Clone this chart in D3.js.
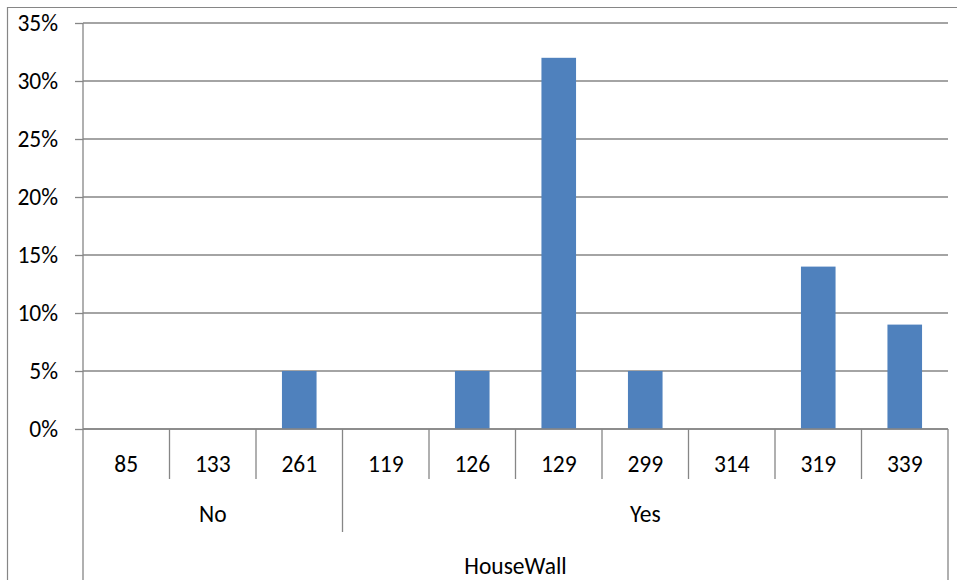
<!DOCTYPE html>
<html>
<head>
<meta charset="utf-8">
<script src="https://cdn.jsdelivr.net/npm/d3@7"></script>
<style>
  html, body { margin: 0; padding: 0; background: #fff; }
  svg { display: block; }
  text { font-family: Calibri, Carlito, Lato, sans-serif; fill: #000; }
</style>
</head>
<body>
<svg id="chart" width="957" height="580"></svg>
<script>
// Share of records per HouseWall group and id
const groups = ["No", "Yes"];
const categories = ["85", "133", "261", "119", "126", "129", "299", "314", "319", "339"];
const categoryGroup = ["No", "No", "No", "Yes", "Yes", "Yes", "Yes", "Yes", "Yes", "Yes"];
const values = [0, 0, 0.05, 0, 0.05, 0.32, 0.05, 0, 0.14, 0.09];
const yTicks = [0, 0.05, 0.10, 0.15, 0.20, 0.25, 0.30, 0.35];
const axisTitle = "HouseWall";

const W = 957, H = 580;
const plotLeft = 83, plotRight = 948, plotTop = 23, plotBottom = 429;
const gridColor = "#868686";
const barColor = "#4F81BD";
const fontSize = 23.5;

const svg = d3.select("#chart");

// Outer frame of the chart area
svg.append("path")
  .attr("d", `M7.5,${H} V7.5 H${W}`)
  .attr("fill", "none")
  .attr("stroke", gridColor)
  .attr("stroke-width", 1.2);

const keys = categories.map((c, i) => i);

const x = d3.scaleBand()
  .domain(keys)
  .range([plotLeft, plotRight])
  .paddingInner(0.6)
  .paddingOuter(0.3);

const y = d3.scaleLinear()
  .domain([0, 0.35])
  .range([plotBottom, plotTop]);

// Horizontal gridlines
svg.append("g")
  .selectAll("line")
  .data(yTicks)
  .join("line")
  .attr("x1", plotLeft)
  .attr("x2", plotRight)
  .attr("y1", d => y(d))
  .attr("y2", d => y(d))
  .attr("stroke", gridColor)
  .attr("stroke-width", 1.3);

// Y axis with percent labels
const yAxis = svg.append("g")
  .attr("transform", `translate(${plotLeft},0)`)
  .call(d3.axisLeft(y).tickValues(yTicks).tickFormat(d3.format(".0%")).tickSize(8).tickPadding(17));
yAxis.select(".domain").remove();
yAxis.selectAll(".tick line").attr("stroke", gridColor).attr("stroke-width", 1.3);
yAxis.selectAll(".tick text")
  .style("font-family", "Calibri, Carlito, Lato, sans-serif")
  .style("font-size", fontSize + "px")
  .attr("fill", "#000");

// Bars
svg.append("g")
  .selectAll("rect")
  .data(keys.filter(i => values[i] > 0))
  .join("rect")
  .attr("x", i => x(i))
  .attr("y", i => y(values[i]))
  .attr("width", x.bandwidth())
  .attr("height", i => y(0) - y(values[i]))
  .attr("fill", barColor);

// Category axis: baseline, dividers and labels
const step = x.step();
const edge = i => plotLeft + i * step;
const axisG = svg.append("g").attr("stroke", gridColor).attr("stroke-width", 1.3);

axisG.append("line")
  .attr("x1", plotLeft).attr("x2", plotRight)
  .attr("y1", plotBottom).attr("y2", plotBottom);

// left and right frame lines running to the bottom
axisG.append("line").attr("x1", plotLeft).attr("x2", plotLeft).attr("y1", plotTop).attr("y2", H);
axisG.append("line").attr("x1", plotRight).attr("x2", plotRight).attr("y1", plotBottom).attr("y2", H);

for (let i = 1; i < categories.length; i++) {
  const groupBreak = categoryGroup[i] !== categoryGroup[i - 1];
  axisG.append("line")
    .attr("x1", edge(i)).attr("x2", edge(i))
    .attr("y1", plotBottom)
    .attr("y2", groupBreak ? 532 : 479);
}

// id labels
svg.append("g")
  .selectAll("text")
  .data(keys)
  .join("text")
  .attr("x", i => x(i) + x.bandwidth() / 2)
  .attr("y", 472)
  .attr("text-anchor", "middle")
  .style("font-size", fontSize + "px")
  .text(i => categories[i]);

// group labels
const groupSpan = groups.map(g => {
  const idx = keys.filter(i => categoryGroup[i] === g);
  return { g, x0: edge(idx[0]), x1: edge(idx[idx.length - 1] + 1) };
});
svg.append("g")
  .selectAll("text")
  .data(groupSpan)
  .join("text")
  .attr("x", d => (d.x0 + d.x1) / 2)
  .attr("y", 522)
  .attr("text-anchor", "middle")
  .style("font-size", fontSize + "px")
  .text(d => d.g);

// axis title
svg.append("text")
  .attr("x", (plotLeft + plotRight) / 2)
  .attr("y", 574)
  .attr("text-anchor", "middle")
  .style("font-size", fontSize + "px")
  .text(axisTitle);
</script>
</body>
</html>
